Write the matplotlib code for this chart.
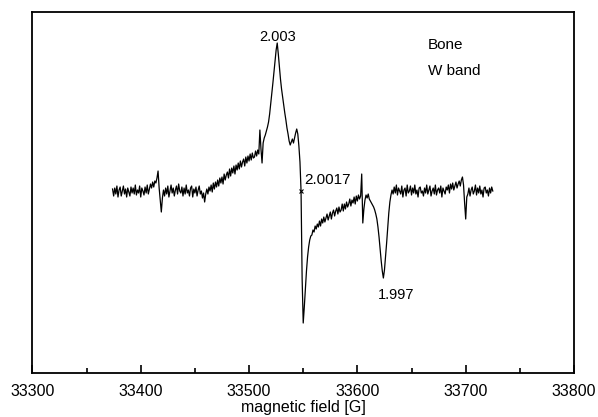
import numpy as np
import matplotlib
matplotlib.use("Agg")
from matplotlib import pyplot as plt

plt.rcParams['font.family'] = ['Liberation Sans', 'DejaVu Sans']

# EPR signal (arb. units), sampled every 1 G starting at 33374 G
field_start = 33374
baseline_left = [2, -5, 3, -3, 5, -6, 1, 4, -5, 0,
                 5, -3, 2, -6, 3, -1, -5, 4, -2, 3,
                 -3, 6, -4, 1, -2, 5, -6, 3, 0, -4,
                 4, -2, 6, -3, 2, 7, 3, 9, 4, 10,
                 8]
spike_left = [13, 20, 3, -9, -21, -7, 1]
baseline_mid = [-5, 3, -3, 5, -6, 0, 6, -2, 3, -5,
                1, 5, -3, 7, 0, -2, 4, -5, 3, -3,
                6, -2, 1, -5, 3, 5, -6, 2, -2, 4,
                -5, 1, 5, -3, 0, -7, -2, -11, -3]
rise = [2, -3, 4, 0, 6, -1, 8, 2, 9, 4,
        11, 5, 13, 8, 14, 7, 17, 11, 16, 19,
        13, 22, 15, 23, 18, 25, 17, 26, 21, 28,
        22, 30, 24, 29, 32, 25, 34, 28, 35, 30,
        37, 31, 38, 33, 34, 40, 35, 41, 37]
peak = [61, 42, 28, 48, 53, 56, 60, 64, 69, 77,
        87, 97, 108, 119, 130, 141, 148, 137, 124, 112,
        102, 94, 86, 78, 71, 63, 57, 50, 46, 49,
        52, 48, 53, 58, 62, 57, 45, 29]
trough = [0, -88, -132, -116, -98, -80, -66, -56, -49, -45,
          -44, -39, -41, -35, -38, -33, -36, -30, -35, -28,
          -32, -26, -31, -27, -23, -29, -25, -21, -28, -22,
          -19, -25, -20, -17, -23, -16, -21, -19, -13, -20,
          -13, -18, -11, -16, -13, -8, -15, -9, -12, -6,
          -13, -5, -10, -4, -8]
dip = [-5, 17, -32, -18, -9, -4, -7, -3, -8, -10,
       -12, -14, -16, -19, -23, -28, -36, -46, -58, -70,
       -80, -87, -79, -66, -52, -37, -22, -11, -4, 1]
baseline_right = [-3, 4, -2, 6, -4, 3, 0, -3, 5, -6,
                  1, 3, -5, 6, -2, 0, 5, -4, 3, -2,
                  6, -3, 1, -6, 3, 4, -2, 0, -5, 3,
                  -2, 6, -3, 1, 5, -5, 0, 3, -3, 6,
                  -4, 1, 3, -2, 5, -6, 3, 0, -3, 4,
                  1, 6, -2, 7, 2, 8, 1, 5, 9, 3,
                  7, 10, 5, 11, 14, 6, -12, -28, -6, -3,
                  3, -5, 1, 4, -3, 0, 6, -4, 3, -2,
                  5, -3, 1, -6, 3, 4, -2, 1, -5, 3,
                  -2, 4, 0]

signal = np.array(baseline_left + spike_left + baseline_mid + rise + peak
                  + trough + dip + baseline_right, dtype=float)
field = field_start + np.arange(len(signal))

g_labels = ["2.003", "2.0017", "1.997"]
g_fields = [33526, 33548, 33624]

fig = plt.figure(figsize=(5.98, 4.17), dpi=100)
ax = fig.add_axes([0.0542, 0.1062, 0.9057, 0.8662])
ax.plot(field, signal, color='black', lw=0.9)

# crossing marker for g = 2.0017
ax.plot([g_fields[1]], [0], marker='x', color='black', ms=3, mew=0.8)

ax.text(g_fields[0], 154, g_labels[0], ha='center', va='center', fontsize=10.5)
ax.text(33551, 11, g_labels[1], ha='left', va='center', fontsize=11)
ax.text(g_fields[2] + 12, -104, g_labels[2], ha='center', va='center', fontsize=10.5)
ax.text(33665, 146, "Bone", ha='left', va='center', fontsize=11)
ax.text(33665, 120, "W band", ha='left', va='center', fontsize=11)

ax.set_xlim(33300, 33800)
ax.set_ylim(-181.7, 179.5)
ax.set_xticks([33300, 33400, 33500, 33600, 33700, 33800])
ax.set_xticks([33350, 33450, 33550, 33650, 33750], minor=True)
ax.set_yticks([])
ax.tick_params(axis='x', which='major', direction='in', length=6, width=1.2,
               labelsize=11.5, pad=8)
ax.tick_params(axis='x', which='minor', direction='in', length=3.5, width=1.2)
for s in ax.spines.values():
    s.set_linewidth(1.3)
ax.set_xlabel("magnetic field [G]", fontsize=11.5, labelpad=1)

fig.savefig("out.png", dpi=100)
